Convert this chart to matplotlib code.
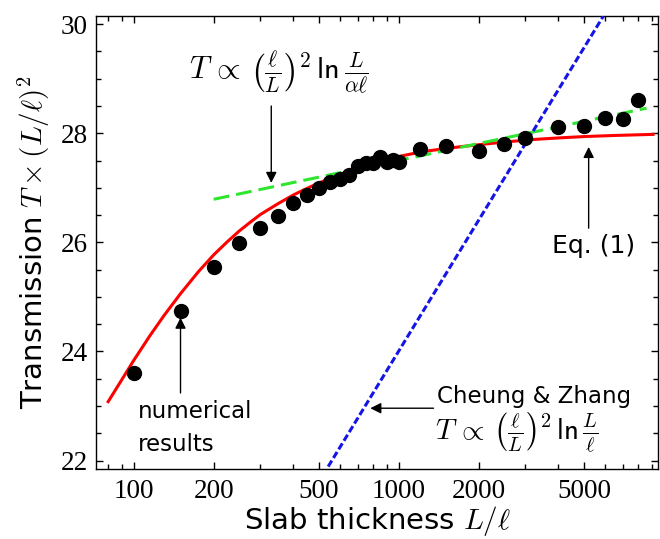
import matplotlib
matplotlib.use("Agg")
import matplotlib.pyplot as plt
from matplotlib.ticker import FixedLocator, FixedFormatter, LogLocator, MultipleLocator, NullFormatter

plt.rcParams.update({"font.family": "DejaVu Sans", "mathtext.fontset": "cm"})

# numerical results (dots)
L_num = [100, 150, 200, 250, 300, 350, 400, 450, 500, 550, 600, 650, 700, 750, 800,
         850, 900, 950, 1000, 1200, 1500, 2000, 2500, 3000, 4000, 5000, 6000, 7000, 8000]
T_num = [23.61, 24.75, 25.55, 25.98, 26.27, 26.48, 26.73, 26.87, 26.99, 27.10, 27.16, 27.23, 27.40, 27.46, 27.45,
         27.56, 27.47, 27.51, 27.47, 27.72, 27.76, 27.68, 27.80, 27.91, 28.12, 28.13, 28.28, 28.26, 28.61]

# Eq. (1), red curve
L_eq1 = [80, 90, 100, 115, 130, 150, 175, 200, 225, 250, 275, 300, 350, 400, 450, 500, 575, 650,
         750, 850, 1000, 1150, 1300, 1500, 1750, 2000, 2500, 3300, 4000, 5000, 6500, 9100]
T_eq1 = [23.08, 23.48, 23.84, 24.29, 24.66, 25.06, 25.46, 25.77, 26.01, 26.21, 26.37, 26.51, 26.71, 26.87, 26.99, 27.09, 27.21, 27.31,
         27.41, 27.49, 27.575, 27.635, 27.68, 27.72, 27.76, 27.79, 27.84, 27.89, 27.915, 27.94, 27.96, 27.98]

# T ~ (l/L)^2 ln(L/(alpha l)), green dashed
L_log = [200, 8600]
T_log = [26.79, 28.46]

# Cheung & Zhang, blue dotted
L_cz = [541, 5910]
T_cz = [21.89, 30.15]

x_major = [100, 200, 500, 1000, 2000, 5000]
y_major = [22, 24, 26, 28, 30]

fig = plt.figure(figsize=(6.6, 5.39), dpi=100)
ax = fig.add_axes([0.1455, 0.1293, 0.8515, 0.841])

ax.plot(L_eq1, T_eq1, color="#ff0000", lw=2.2, zorder=2, solid_joinstyle="round")
ax.plot(L_log, T_log, color="#2ee62e", lw=2.2, dashes=(5.2, 2.3), zorder=3)
ax.plot(L_cz, T_cz, color="#1414e6", lw=2.2, dashes=(2.3, 1.0), zorder=3)
ax.plot(L_num, T_num, "o", color="black", ms=10, zorder=4)

ax.set_xscale("log")
ax.set_xlim(72, 9500)
ax.set_ylim(21.84, 30.15)

ax.xaxis.set_major_locator(FixedLocator(x_major))
ax.xaxis.set_major_formatter(FixedFormatter([str(v) for v in x_major]))
ax.xaxis.set_minor_locator(LogLocator(base=10, subs=range(1, 10), numticks=20))
ax.xaxis.set_minor_formatter(NullFormatter())
ax.yaxis.set_major_locator(FixedLocator(y_major))
ax.yaxis.set_minor_locator(MultipleLocator(0.5))

ax.tick_params(which="both", direction="in", top=True, right=True, width=1.0)
ax.tick_params(which="major", length=5)
ax.tick_params(which="minor", length=3.3)
for lab in ax.get_xticklabels() + ax.get_yticklabels():
  lab.set_family("Liberation Serif")
  lab.set_fontsize(19.5)
ax.tick_params(axis="x", pad=7)
ax.tick_params(axis="y", pad=6)
for s in ax.spines.values():
  s.set_linewidth(1.0)

ax.set_xlabel(r"Slab thickness $L/\ell$", fontsize=21, labelpad=0)
ax.set_ylabel(r"Transmission $T\times(L/\ell)^2$", fontsize=21, labelpad=6)

arrow = dict(arrowstyle="-|>", color="black", lw=1.0, mutation_scale=16, shrinkA=0, shrinkB=0)

ax.text(351, 29.12, r"$T\,\propto\,\left(\frac{\ell}{L}\right)^2\,\mathsf{ln}\,\frac{L}{\alpha\ell}$",
        fontsize=22, ha="center", va="center")
ax.annotate("", xy=(330, 27.09), xytext=(330, 28.50), arrowprops=arrow)

ax.text(5406, 25.93, "Eq. (1)", fontsize=18, ha="center", va="center")
ax.annotate("", xy=(5200, 27.75), xytext=(5200, 26.26), arrowprops=arrow)

ax.text(104, 22.78, "numerical", fontsize=16.5, ha="left", va="baseline")
ax.text(104, 22.18, "results", fontsize=16.5, ha="left", va="baseline")
ax.annotate("", xy=(150, 24.62), xytext=(150, 23.24), arrowprops=arrow)

ax.text(1392, 23.06, "Cheung & Zhang", fontsize=16.5, ha="left", va="baseline")
ax.text(1371, 22.53, r"$T\,\propto\,\left(\frac{\ell}{L}\right)^2\,\mathsf{ln}\,\frac{L}{\ell}$",
        fontsize=21, ha="left", va="center")
ax.annotate("", xy=(780, 22.96), xytext=(1351, 22.96), arrowprops=arrow)

plt.savefig("out.png", dpi=100)
